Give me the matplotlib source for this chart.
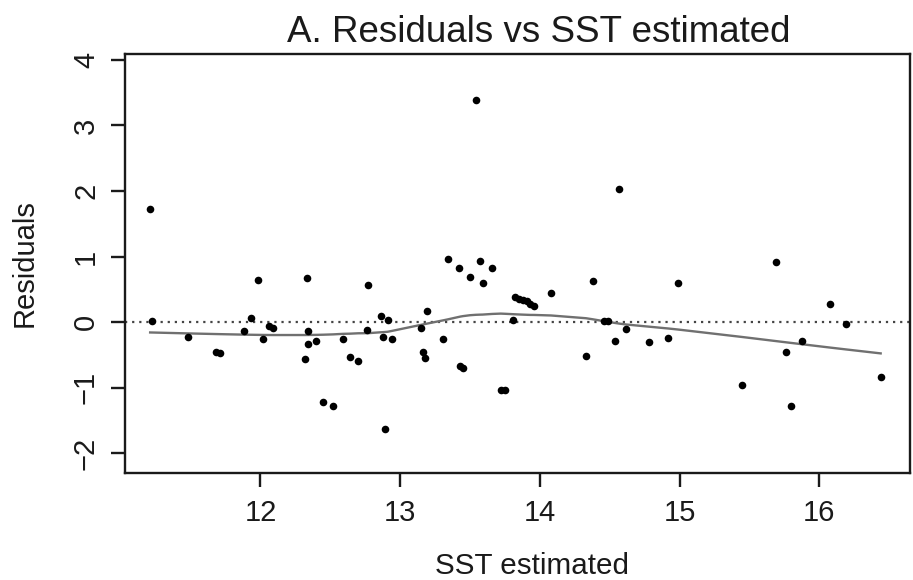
import numpy as np
import matplotlib
matplotlib.use("Agg")
import matplotlib.pyplot as plt

plt.rcParams['font.family'] = ['Liberation Sans', 'DejaVu Sans']

# Data
sst = [11.21, 11.22, 11.48, 11.68, 11.71, 11.88, 11.93, 11.98, 12.02, 12.06,
       12.09, 12.32, 12.33, 12.34, 12.34, 12.40, 12.45, 12.52, 12.59, 12.64,
       12.70, 12.76, 12.77, 12.86, 12.88, 12.89, 12.91, 12.94, 13.15, 13.16,
       13.18, 13.19, 13.31, 13.34, 13.42, 13.43, 13.45, 13.50, 13.54, 13.57,
       13.59, 13.66, 13.72, 13.75, 13.81, 13.82, 13.85, 13.88, 13.91, 13.93,
       13.96, 14.08, 14.33, 14.38, 14.46, 14.49, 14.54, 14.57, 14.62, 14.78,
       14.92, 14.99, 15.45, 15.69, 15.76, 15.80, 15.88, 16.08, 16.19, 16.44]
resid = [1.73, 0.02, -0.23, -0.45, -0.47, -0.13, 0.07, 0.65, -0.26, -0.05,
         -0.08, -0.56, 0.68, -0.13, -0.33, -0.29, -1.21, -1.27, -0.26, -0.53,
         -0.59, -0.12, 0.57, 0.10, -0.23, -1.63, 0.04, -0.26, -0.085, -0.46,
         -0.55, 0.165, -0.26, 0.96, 0.83, -0.66, -0.69, 0.69, 3.39, 0.94,
         0.60, 0.82, -1.03, -1.03, 0.04, 0.38, 0.35, 0.34, 0.32, 0.28,
         0.245, 0.44, -0.51, 0.63, 0.02, 0.02, -0.28, 2.03, -0.10, -0.30,
         -0.24, 0.60, -0.96, 0.92, -0.46, -1.27, -0.29, 0.28, -0.02, -0.84]
xticks = [12, 13, 14, 15, 16]
yticks = [-2, -1, 0, 1, 2, 3, 4]


def lowess(x, y, f=2/3, iters=3):
    # plain version of R's lowess smoother
    x = np.asarray(x, float)
    y = np.asarray(y, float)
    order = np.argsort(x)
    x, y = x[order], y[order]
    n = len(x)
    ns = max(2, min(n, int(f * n + 1e-7)))
    rw = np.ones(n)
    fit = np.zeros(n)
    for it in range(iters + 1):
        for i in range(n):
            d = np.abs(x - x[i])
            h = np.sort(d)[ns - 1]
            u = d / h
            w = np.where(u < 1, (1 - u ** 3) ** 3, 0.0) * rw
            sw = w.sum()
            xm = (w * x).sum() / sw
            b = (w * (x - xm) ** 2).sum()
            if b > 1e-12:
                slope = (w * (x - xm) * y).sum() / b
            else:
                slope = 0.0
            ym = (w * y).sum() / sw
            fit[i] = ym + slope * (x[i] - xm)
        if it == iters:
            break
        res = y - fit
        cmad = 6 * np.median(np.abs(res))
        r = np.abs(res) / cmad
        rw = np.where(r < 1, (1 - r ** 2) ** 2, 0.0)
    return x, fit


ink = '#1a1a1a'
fig = plt.figure(figsize=(9.13, 5.8), dpi=100)
ax = fig.add_axes([125 / 913, 1 - 472.5 / 580, 785 / 913, 418.5 / 580])

ax.scatter(sst, resid, s=30, color='black', zorder=3, linewidths=0)
ax.axhline(0, color='#444444', linestyle=(0, (1, 2.2)), linewidth=1.6)
lx, ly = lowess(sst, resid)
ax.plot(lx, ly, color='#707070', linewidth=1.7)

ax.set_xlim(11.03, 16.65)
ax.set_ylim(-2.29, 4.09)
ax.set_xticks(xticks)
ax.set_yticks(yticks)
ax.set_yticklabels([str(v).replace('-', '\u2212') for v in yticks],
                   rotation=90, va='center')
ax.tick_params(axis='both', length=10, width=1.7, labelsize=21, color=ink,
               labelcolor=ink)
ax.tick_params(axis='x', pad=9)
ax.tick_params(axis='y', pad=8)
for sp in ax.spines.values():
    sp.set_linewidth(1.7)
    sp.set_color(ink)

ax.set_title('A. Residuals vs SST estimated', fontsize=26.5, pad=9, color=ink,
             x=(539 - 125) / 785)
ax.set_xlabel('SST estimated', fontsize=21.3, labelpad=16, color=ink)
ax.xaxis.set_label_coords((532 - 125) / 785, -0.19)
ax.set_ylabel('Residuals', fontsize=21, labelpad=24, color=ink)

fig.savefig('out.png', dpi=100)
